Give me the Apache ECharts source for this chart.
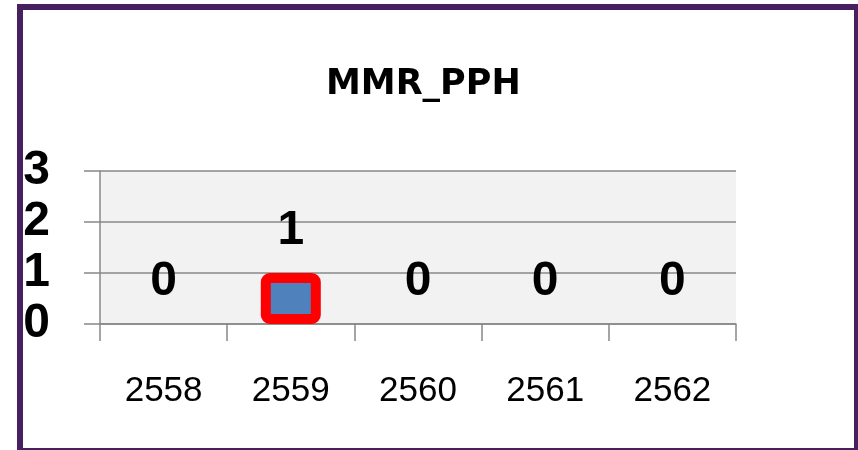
<!DOCTYPE html>
<html style="height: 100%">
<head>
    <meta charset="utf-8">
    <style>
        body { margin: 0; width: 858px; height: 450px; overflow: hidden; position: relative; background: #fff; }
        .frame {
            position: absolute;
            left: 17px;
            top: 4px;
            width: 831px;
            height: 438px;
            border: 6px solid #47205f;
        }
        #container { position: absolute; left: 0; top: 0; width: 858px; height: 450px; }
    </style>
</head>
<body>
    <div class="frame"></div>
    <div id="container"></div>
    <script src="https://cdn.jsdelivr.net/npm/echarts@6/dist/echarts.min.js"></script>
    <script type="text/javascript">
        var years = ['2558', '2559', '2560', '2561', '2562'];
        var counts = [0, 1, 0, 0, 0];
        var titleText = 'MMR_PPH';

        var myChart = echarts.init(document.getElementById('container'));

        // only the non-zero bar gets the red outline
        var barData = counts.map(function (v) {
            return {
                value: v,
                itemStyle: v > 0 ? { borderColor: '#ff0000', borderWidth: 10, borderRadius: 4 } : { borderWidth: 0 }
            };
        });

        var option = {
            backgroundColor: 'transparent',
            animation: false,
            title: {
                text: titleText,
                left: 321,
                top: 62,
                textStyle: {
                    fontFamily: 'DejaVu Sans',
                    fontWeight: 'bold',
                    fontSize: 35,
                    color: '#000'
                }
            },
            grid: {
                show: true,
                backgroundColor: '#f2f2f2',
                borderWidth: 0,
                left: 100,
                right: 122,
                top: 171,
                bottom: 126
            },
            xAxis: {
                type: 'category',
                data: years,
                boundaryGap: true,
                axisLine: { lineStyle: { color: '#888', width: 1.5 } },
                axisTick: { show: true, length: 17, lineStyle: { color: '#888', width: 1.5 } },
                axisLabel: {
                    margin: 50,
                    fontFamily: 'Liberation Sans',
                    fontSize: 35,
                    color: '#000'
                }
            },
            yAxis: {
                type: 'value',
                min: 0,
                max: 3,
                interval: 1,
                axisLine: { show: true, lineStyle: { color: '#888', width: 1.5 } },
                axisTick: { show: true, length: 16, lineStyle: { color: '#888', width: 1.5 } },
                splitLine: { lineStyle: { color: '#888', width: 1.5 } },
                axisLabel: {
                    margin: 50,
                    fontFamily: 'Liberation Sans',
                    fontWeight: 'bold',
                    fontSize: 48,
                    color: '#000'
                }
            },
            series: [
                {
                    type: 'bar',
                    data: barData,
                    barWidth: 60,
                    itemStyle: { color: '#4f81bd' },
                    label: {
                        show: true,
                        position: 'top',
                        distance: 18,
                        fontFamily: 'Liberation Sans',
                        fontWeight: 'bold',
                        fontSize: 48,
                        color: '#000'
                    }
                }
            ]
        };
        myChart.setOption(option);
    </script>
</body>
</html>
